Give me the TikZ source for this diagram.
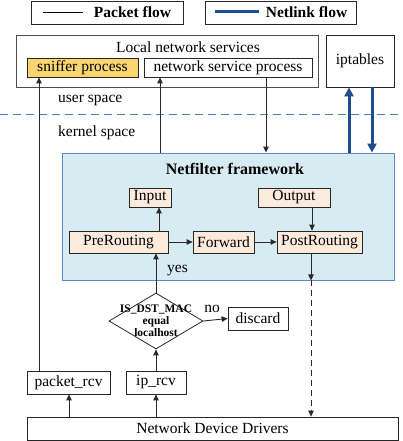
\documentclass[tikz,border=0pt]{standalone}
\usepackage{fontspec}
\setmainfont{Liberation Serif}
\usetikzlibrary{arrows.meta,shapes.geometric}
\definecolor{nfill}{HTML}{D7ECF2}
\definecolor{nborder}{HTML}{5B8CC8}
\definecolor{peach}{HTML}{FCEADD}
\definecolor{sniff}{HTML}{F9D572}
\definecolor{nlblue}{HTML}{1F4E8F}
\definecolor{dashblue}{HTML}{4A7EC0}
\definecolor{lin}{HTML}{2A2A2A}
\begin{document}
\begin{tikzpicture}[x=1pt,y=-1pt,
  txt/.style={inner sep=0pt, font=\fontsize{15.5}{17}\selectfont},
  box/.style={draw=black!85, line width=0.8pt, inner sep=0pt, font=\fontsize{15.5}{17}\selectfont},
  hook/.style={box, fill=peach},
  arr/.style={draw=lin, line width=0.9pt, -{Triangle[length=6pt,width=5.5pt]}},
  nl/.style={draw=nlblue, line width=3pt, -{Triangle[length=9pt,width=9pt]}}]
\useasboundingbox (0,0) rectangle (403,441);
% legend
\node[box, minimum width=152pt, minimum height=23pt] (leg1) at (107,12.5) {};
\coordinate (l1a) at (43,12); \coordinate (l1b) at (83,12);
\draw[draw=black, line width=0.8pt] (l1a) -- (l1b);
\node[txt, font=\bfseries\fontsize{15.5}{17}\selectfont] (pf) at (132.5,12) {Packet flow};
\node[box, minimum width=151pt, minimum height=23pt] (leg2) at (280.5,12.5) {};
\coordinate (l2a) at (215,12); \coordinate (l2b) at (259,12);
\draw[draw=nlblue, line width=3pt] (l2a) -- (l2b);
\node[txt, font=\bfseries\fontsize{15.5}{17}\selectfont] (nlf) at (306.5,12) {Netlink flow};
% user space
\node[box, draw=black!70, minimum width=302pt, minimum height=52pt] (lns) at (167,61) {};
\node[txt] (lnst) at (188,47) {Local network services};
\node[box, fill=sniff, minimum width=111pt, minimum height=19pt] (sniffer) at (82.5,67.5) {sniffer process};
\node[box, minimum width=168pt, minimum height=19pt] (nsp) at (228,67.5) {network service process};
\node[box, minimum width=68pt, minimum height=52pt] (ipt) at (360,61) {iptables};
\node[txt, anchor=west] (us) at (58,100) {user space};
\node[txt, anchor=west] (ks) at (58,133) {kernel space};
\coordinate (dl) at (0,114); \coordinate (dr) at (403,114);
\draw[draw=dashblue, line width=1pt, dash pattern=on 8pt off 5pt] (dl) -- (dr);
% netfilter
\node[draw=nborder, fill=nfill, line width=0.9pt, minimum width=332pt, minimum height=127pt, inner sep=0pt] (nf) at (228,216.5) {};
\node[txt, font=\bfseries\fontsize{16}{18}\selectfont] (nft) at (235,169) {Netfilter framework};
\node[hook, minimum width=42pt, minimum height=19pt] (input) at (150,197.5) {Input};
\node[hook, minimum width=72pt, minimum height=19pt] (output) at (294,197.5) {Output};
\node[hook, minimum width=99pt, minimum height=22pt] (pre) at (118.5,242) {PreRouting};
\node[hook, minimum width=61pt, minimum height=22pt] (fwd) at (223.5,242) {Forward};
\node[hook, minimum width=85pt, minimum height=22pt] (post) at (319.5,242) {PostRouting};
% lower part
\node[draw=black!85, line width=0.8pt, diamond, minimum width=94pt, minimum height=56pt, inner sep=0pt] (dia) at (156,321) {};
\node[inner sep=0pt, align=center, font=\bfseries\fontsize{11.5}{12}\selectfont] (diat) at (156,321) {IS\_DST\_MAC\\equal\\localhost};
\node[box, minimum width=60pt, minimum height=23pt] (discard) at (258,318.5) {discard};
\node[txt] (no) at (212,309) {no};
\node[txt, anchor=west] (yes) at (167,271) {yes};
\node[box, minimum width=83pt, minimum height=23pt] (prcv) at (68.5,382.5) {packet\_rcv};
\node[box, minimum width=60pt, minimum height=23pt] (iprcv) at (156,382.5) {ip\_rcv};
\node[box, minimum width=371pt, minimum height=23pt] (ndd) at (212.5,428.5) {Network Device Drivers};
% x positions
\coordinate (x39) at (39,0);
\coordinate (x69) at (69,0);
\coordinate (x156) at (156,0);
\coordinate (x159) at (159,0);
\coordinate (x160) at (160,0);
\coordinate (x266) at (266,0);
\coordinate (x311) at (311,0);
\coordinate (x312) at (312,0);
\coordinate (x349) at (349,0);
\coordinate (x372) at (372,0);
% connectors
\draw[arr] (ndd.north -| x69) -- (prcv.south -| x69);
\draw[arr] (ndd.north -| x156) -- (iprcv.south -| x156);
\draw[arr] (iprcv.north -| x156) -- (dia.south);
\draw[arr] (dia.north) -- (pre.south -| x156);
\draw[arr] (dia.east) -- (discard.west);
\draw[arr] (pre.north -| x159) -- (input.south -| x159);
\draw[arr] (pre.east) -- (fwd.west);
\draw[arr] (fwd.east) -- (post.west);
\draw[arr] (output.south -| x312) -- (post.north -| x312);
\draw[arr] (post.south -| x311) -- (nf.south -| x311);
\draw[arr, dash pattern=on 6pt off 4pt] (nf.south -| x311) -- (ndd.north -| x311);
\draw[arr] (prcv.north -| x39) -- (sniffer.south -| x39);
\draw[arr] (nf.north -| x160) -- (nsp.south -| x160);
\draw[arr] (nsp.south -| x266) -- (nf.north -| x266);
\draw[nl] (nf.north -| x349) -- (ipt.south -| x349);
\draw[nl] (ipt.south -| x372) -- (nf.north -| x372);
\end{tikzpicture}
\end{document}
